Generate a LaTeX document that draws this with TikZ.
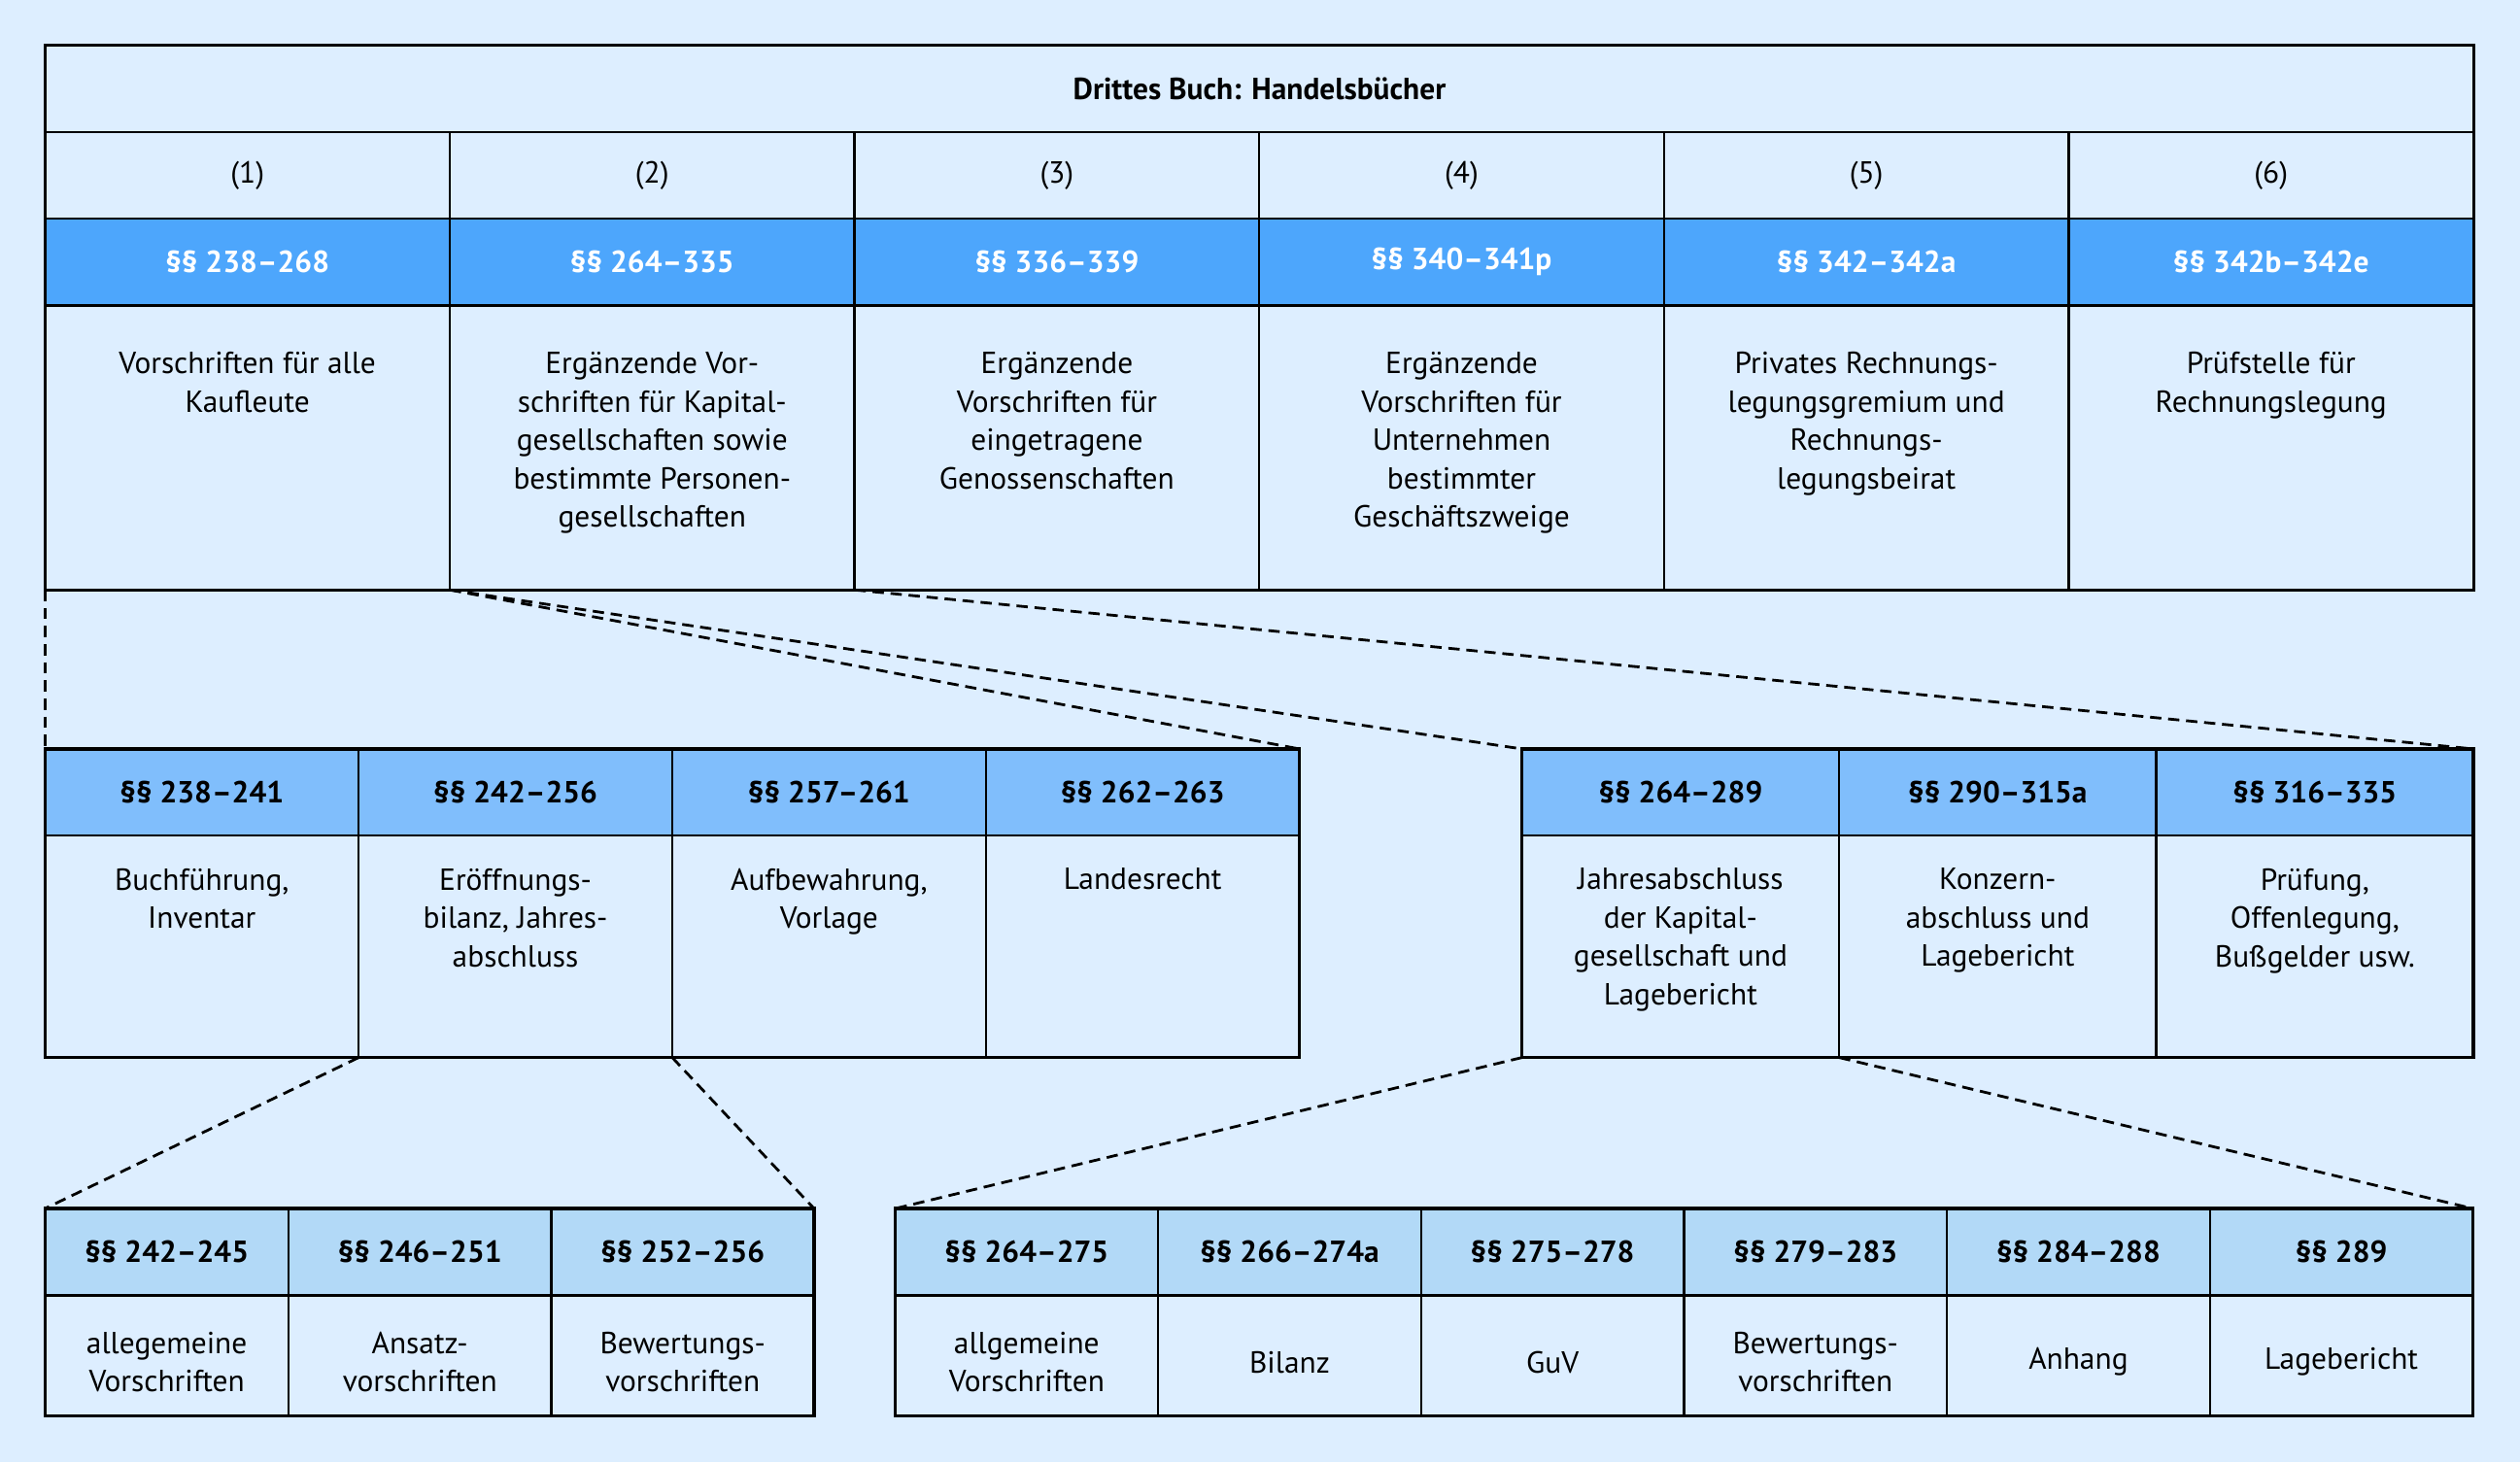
\documentclass[tikz,border=0pt]{standalone}
\usepackage{fontspec}
\setmainfont{PT Sans}
\usepackage{tikz}
\usetikzlibrary{positioning}

\definecolor{grund}{RGB}{221,238,255}
\definecolor{blaudunkel}{RGB}{77,166,252}
\definecolor{blaumittel}{RGB}{128,190,252}
\definecolor{blauhell}{RGB}{178,217,247}

\newcommand{\normalschrift}{\fontsize{13.5}{17}\selectfont}
\newcommand{\fettschrift}{\fontsize{13.5}{17}\selectfont\bfseries}

\tikzset{
  zelle/.style={draw, line width=1pt, inner sep=0pt, outer sep=0pt,
    anchor=north west, align=center, font=\normalschrift},
  kopfa/.style={zelle, fill=blaudunkel, text=white, font=\fettschrift},
  kopfb/.style={zelle, fill=blaumittel, font=\fettschrift},
  kopfc/.style={zelle, fill=blauhell, font=\fettschrift},
  txt/.style={align=center, inner sep=0pt, font=\normalschrift},
  rahmen/.style={line width=1.4pt},
  strich/.style={line width=1.2pt, dash pattern=on 5pt off 3pt}
}

\begin{document}
\begin{tikzpicture}[x=0.025cm, y=-0.025cm]
  \fill[grund] (0,0) rectangle (1568,910);
  \useasboundingbox (0,0) rectangle (1568,910);

  % Drittes Buch
  \node[zelle, minimum width=37.775cm, minimum height=1.35cm, font=\fettschrift]
    (titel) at (28,28) {Drittes Buch: Handelsbücher};
  \foreach \i/\kopf/\inhalt in {
    1/{§§ 238–268}/{Vorschriften für alle\\Kaufleute},
    2/{§§ 264–335}/{Ergänzende Vor-\\schriften für Kapital-\\gesellschaften sowie\\bestimmte Personen-\\gesellschaften},
    3/{§§ 336–339}/{Ergänzende\\Vorschriften für\\eingetragene\\Genossenschaften},
    4/{§§ 340–341p}/{Ergänzende\\Vorschriften für\\Unternehmen\\bestimmter\\Geschäftszweige},
    5/{§§ 342–342a}/{Privates Rechnungs-\\legungsgremium und\\Rechnungs-\\legungsbeirat},
    6/{§§ 342b–342e}/{Prüfstelle für\\Rechnungslegung}}
  {
    \pgfmathsetmacro\x{28+(\i-1)*251.83}
    \node[zelle, minimum width=6.296cm, minimum height=1.35cm] (n\i) at (\x,82) {(\i)};
    \node[kopfa, minimum width=6.296cm, minimum height=1.35cm] (p\i) at (\x,136) {\kopf};
    \node[zelle, minimum width=6.296cm, minimum height=4.425cm] (t\i) at (\x,190) {};
    \node[txt, below=0.72cm of t\i.north] (tt\i) {\inhalt};
  }
  \draw[rahmen] (titel.north west) rectangle (t6.south east);

  % Ebene 2 links
  \foreach \i/\kopf/\inhalt in {
    1/{§§ 238–241}/{Buchführung,\\Inventar},
    2/{§§ 242–256}/{Eröffnungs-\\bilanz, Jahres-\\abschluss},
    3/{§§ 257–261}/{Aufbewahrung,\\Vorlage},
    4/{§§ 262–263}/{Landesrecht}}
  {
    \pgfmathsetmacro\x{28+(\i-1)*195.125}
    \node[kopfb, minimum width=4.878cm, minimum height=1.35cm] (ml\i) at (\x,466) {\kopf};
    \node[zelle, minimum width=4.878cm, minimum height=3.45cm] (mlt\i) at (\x,520) {};
    \node[txt, below=0.5cm of mlt\i.north] (mltt\i) {\inhalt};
  }
  \draw[rahmen] (ml1.north west) rectangle (mlt4.south east);

  % Ebene 2 rechts
  \foreach \i/\kopf/\inhalt in {
    1/{§§ 264–289}/{Jahresabschluss\\der Kapital-\\gesellschaft und\\Lagebericht},
    2/{§§ 290–315a}/{Konzern-\\abschluss und\\Lagebericht},
    3/{§§ 316–335}/{Prüfung,\\Offenlegung,\\Bußgelder usw.}}
  {
    \pgfmathsetmacro\x{947+(\i-1)*197.33}
    \node[kopfb, minimum width=4.933cm, minimum height=1.35cm] (mr\i) at (\x,466) {\kopf};
    \node[zelle, minimum width=4.933cm, minimum height=3.45cm] (mrt\i) at (\x,520) {};
    \node[txt, below=0.5cm of mrt\i.north] (mrtt\i) {\inhalt};
  }
  \draw[rahmen] (mr1.north west) rectangle (mrt3.south east);

  % Ebene 3 links
  \foreach \i/\x/\b/\kopf/\inhalt in {
    1/28/3.7875cm/{§§ 242–245}/{allegemeine\\Vorschriften},
    2/179.5/4.0875cm/{§§ 246–251}/{Ansatz-\\vorschriften},
    3/343/4.0875cm/{§§ 252–256}/{Bewertungs-\\vorschriften}}
  {
    \node[kopfc, minimum width=\b, minimum height=1.35cm] (ul\i) at (\x,752) {\kopf};
    \node[zelle, minimum width=\b, minimum height=1.875cm] (ult\i) at (\x,806) {};
    \node[txt] (ultt\i) at ([yshift=-0.1cm]ult\i.center) {\inhalt};
  }
  \draw[rahmen] (ul1.north west) rectangle (ult3.south east);

  % Ebene 3 rechts
  \foreach \i/\kopf/\inhalt in {
    1/{§§ 264–275}/{allgemeine\\Vorschriften},
    2/{§§ 266–274a}/{Bilanz},
    3/{§§ 275–278}/{GuV},
    4/{§§ 279–283}/{Bewertungs-\\vorschriften},
    5/{§§ 284–288}/{Anhang},
    6/{§§ 289}/{Lagebericht}}
  {
    \pgfmathsetmacro\x{557+(\i-1)*163.6}
    \node[kopfc, minimum width=4.09cm, minimum height=1.35cm] (ur\i) at (\x,752) {\kopf};
    \node[zelle, minimum width=4.09cm, minimum height=1.875cm] (urt\i) at (\x,806) {};
    \node[txt] (urtt\i) at ([yshift=-0.1cm]urt\i.center) {\inhalt};
  }
  \draw[rahmen] (ur1.north west) rectangle (urt6.south east);

  % Verbindungen
  \draw[strich] (t1.south west) -- (ml1.north west);
  \draw[strich] (t1.south east) -- (ml4.north east);
  \draw[strich] (t2.south west) -- (mr1.north west);
  \draw[strich] (t2.south east) -- (mr3.north east);
  \draw[strich] (mlt1.south east) -- (ul1.north west);
  \draw[strich] (mlt2.south east) -- (ul3.north east);
  \draw[strich] (mrt1.south west) -- (ur1.north west);
  \draw[strich] (mrt1.south east) -- (ur6.north east);
\end{tikzpicture}
\end{document}
